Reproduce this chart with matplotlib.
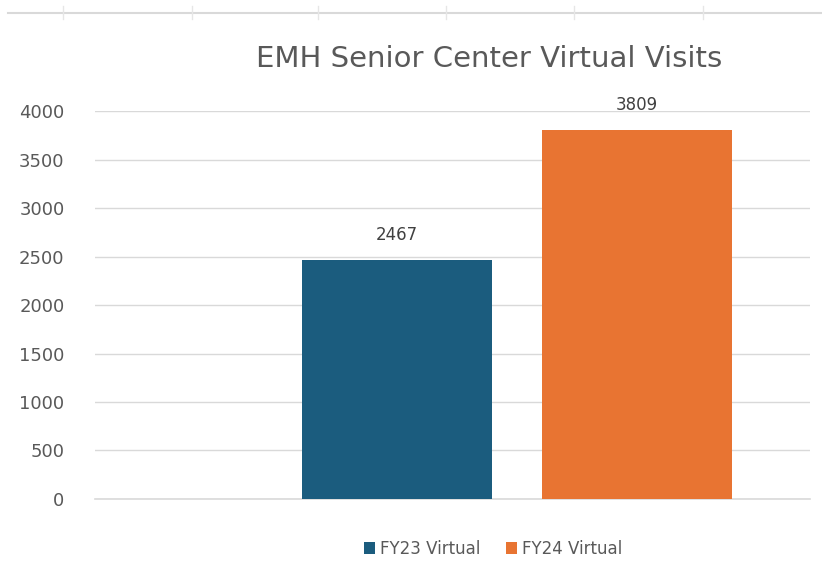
import matplotlib.pyplot as plt
from matplotlib.lines import Line2D

series = ["FY23 Virtual", "FY24 Virtual"]
visits = [2467, 3809]
colors = ["#1b5c7e", "#e87432"]
yticks = [0, 500, 1000, 1500, 2000, 2500, 3000, 3500, 4000]

fig = plt.figure(figsize=(8.22, 5.63), dpi=100)
ax = fig.add_axes([0.1156, 0.1137, 0.8694, 0.689])

xpos = list(range(len(series)))
bars = ax.bar(xpos, visits, width=0.79, color=colors, label=series, zorder=3)
for b, v in zip(bars, visits):
    ax.annotate(str(v), (b.get_x() + b.get_width() / 2, v), xytext=(0, 18),
                textcoords="offset points", ha="center", va="center",
                fontsize=12, color="#404040", clip_on=False)

ax.set_xlim(-1.258, 1.72)
ax.set_ylim(0, 4000)
ax.set_yticks(yticks)
ax.set_xticks([])
ax.yaxis.grid(True, color="#d9d9d9", linewidth=1, zorder=0)
ax.axhline(0, color="#d9d9d9", linewidth=1.2, zorder=2, clip_on=False)
for s in ax.spines.values():
    s.set_visible(False)
ax.tick_params(axis="y", length=0, pad=22, labelsize=13, labelcolor="#595959")

fig.text(0.595, 0.895, "EMH Senior Center Virtual Visits", ha="center", va="center",
         fontsize=21, color="#595959")

fig.legend(handles=bars, labels=series, loc="center", bbox_to_anchor=(0.6, 0.025),
           ncol=2, frameon=False, fontsize=12, handlelength=0.7, handleheight=0.7,
           handletextpad=0.3, columnspacing=1.5, labelcolor="#595959")

# faint axis line of a chart cut off above
ytop = 1 - 13 / 563
fig.add_artist(Line2D([0.01, 1.0], [ytop, ytop], color="#d9d9d9", linewidth=1.5))
for px in [63, 192, 318, 446, 574, 703]:
    fig.add_artist(Line2D([px / 822, px / 822], [ytop - 0.01, ytop + 0.012],
                          color="#e6e6e6", linewidth=1))

fig.savefig("out.png", dpi=100)
